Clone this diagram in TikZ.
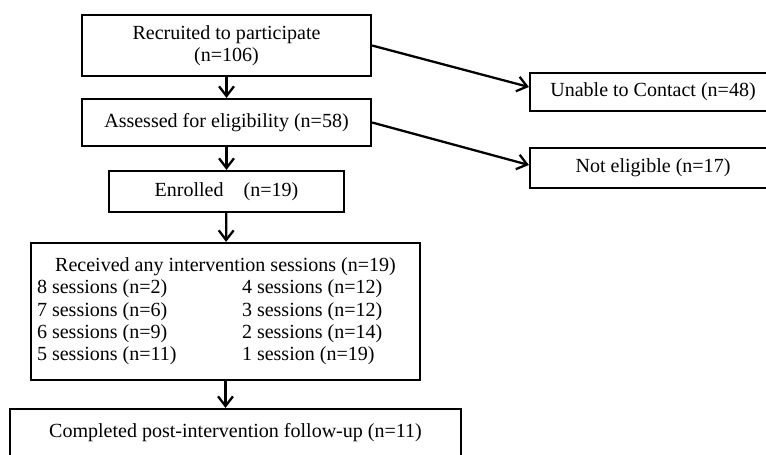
\documentclass[tikz,border=0pt]{standalone}
\usepackage{fontspec}
\setmainfont{Liberation Serif}
\usetikzlibrary{arrows.meta}

\begin{document}
\begin{tikzpicture}[x=0.02cm,y=-0.02cm,
  box/.style={draw,line width=1.3pt,align=center,inner sep=0pt,
    font=\fontsize{11.4}{12.8}\selectfont},
  arr/.style={line width=1.3pt,-{Straight Barb[length=5.5pt,width=8.5pt]}}]
\clip (0,0) rectangle (766,454);

\node[box,minimum width=5.78cm,minimum height=1.22cm] (recruit) at (226.5,45.5)
  {Recruited to participate\\(n=106)};
\node[box,minimum width=5.78cm,minimum height=0.94cm] (assess) at (226.5,122.5)
  {Assessed for eligibility (n=58)};
\node[box,minimum width=4.7cm,minimum height=0.82cm] (enrol) at (226.5,191.5)
  {Enrolled\quad(n=19)};
\node[box,minimum width=7.78cm,minimum height=2.74cm] (received) at (225.5,311.5)
  {\begin{tabular}{@{}p{4.1cm}@{}p{3.44cm}@{}}
   \multicolumn{2}{@{}c@{}}{Received any intervention sessions (n=19)}\\
   8 sessions (n=2)  & 4 sessions (n=12)\\
   7 sessions (n=6)  & 3 sessions (n=12)\\
   6 sessions (n=9)  & 2 sessions (n=14)\\
   5 sessions (n=11) & 1 session (n=19)
   \end{tabular}};
\node[box,minimum width=9.02cm,minimum height=0.96cm] (complete) at (235.5,433)
  {Completed post-intervention follow-up (n=11)};

\node[box,minimum width=4.92cm,minimum height=0.76cm] (nocontact) at (653,92)
  {Unable to Contact (n=48)};
\node[box,minimum width=4.92cm,minimum height=0.8cm] (noteligible) at (653,168)
  {Not eligible (n=17)};

\draw[arr] (recruit) -- (assess);
\draw[arr] (assess) -- (enrol);
\draw[arr] (enrol) -- (received);
\draw[arr] (received.south) -- (received.south |- complete.north);
\draw[arr] (recruit.east) -- ([yshift=0.1cm]nocontact.west);
\draw[arr] (assess.east) -- ([yshift=0.06cm]noteligible.west);
\end{tikzpicture}
\end{document}
